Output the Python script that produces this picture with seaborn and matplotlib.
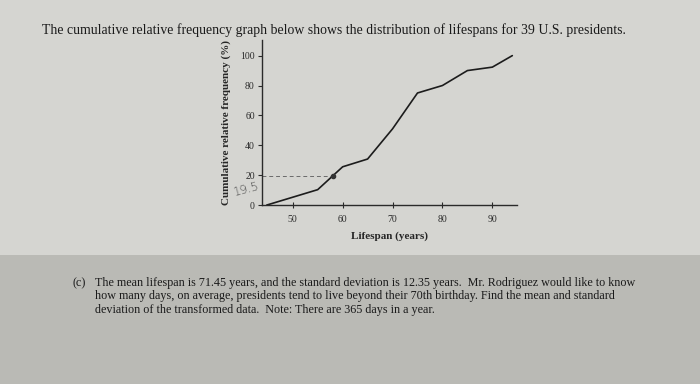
import matplotlib
matplotlib.use('Agg')
import matplotlib.pyplot as plt
import seaborn as sns
import pandas as pd

# values
lifespan = [44.8, 55, 60, 65, 70, 75, 80, 85, 90, 94]
cum_pct = [0, 10.3, 25.6, 30.8, 51.0, 75.0, 80.0, 90.0, 92.3, 100]
x_ticks = [50, 60, 70, 80, 90]
y_ticks = [0, 20, 40, 60, 80, 100]
marked_age = 58
marked_pct = 19.5

title = "The cumulative relative frequency graph below shows the distribution of lifespans for 39 U.S. presidents."
part_c = ["(c)",
		  "The mean lifespan is 71.45 years, and the standard deviation is 12.35 years.  Mr. Rodriguez would like to know",
		  "how many days, on average, presidents tend to live beyond their 70th birthday. Find the mean and standard",
		  "deviation of the transformed data.  Note: There are 365 days in a year."]

sns.set_style('ticks')
plt.rcParams['font.family'] = ['Liberation Serif', 'DejaVu Serif']

paper = '#d5d5d1'
fig = plt.figure(figsize=(7, 3.84), dpi=100, facecolor=paper)

# darker band of the lower half of the photo
fig.patches.append(plt.Rectangle((0, 0), 1, 0.335, transform=fig.transFigure,
								  facecolor='#babab5', edgecolor='none', zorder=0))

ax = fig.add_axes([0.374, 0.466, 0.365, 0.43])
ax.set_facecolor('none')

frame = pd.DataFrame({'Lifespan': lifespan, 'Pct': cum_pct})
sns.lineplot(data=frame, x='Lifespan', y='Pct', ax=ax, color='#1c1c1c', lw=1.2)

# pencil marks
ax.plot([43.8, marked_age], [marked_pct, marked_pct], ls=(0, (4, 3)), color='#6a6a6a', lw=0.7)
ax.plot([marked_age], [marked_pct], 'o', ms=3, color='#333333')
ax.text(-0.115, 0.1, '19.5', transform=ax.transAxes, fontsize=8.5, color='#4a4a4a',
		family='DejaVu Sans', fontweight='light', rotation=15, ha='left', va='center')

ax.set_xlim(43.8, 95)
ax.set_ylim(0, 110.5)
ax.set_xticks(x_ticks)
ax.set_yticks(y_ticks)
ax.tick_params(axis='x', direction='inout', length=5, width=0.8, labelsize=7, pad=5, colors='#2a2a2a')
ax.tick_params(axis='y', direction='out', length=3, width=0.8, labelsize=7, pad=2, colors='#2a2a2a')
sns.despine(ax=ax)
for s in ('left', 'bottom'):
	ax.spines[s].set_color('#2a2a2a')
	ax.spines[s].set_linewidth(1.0)

ax.set_xlabel('Lifespan (years)', fontsize=8, fontweight='bold', labelpad=5)
ax.set_ylabel('Cumulative relative frequency (%)', fontsize=8, fontweight='bold', labelpad=7)

fig.text(0.06, 0.922, title, fontsize=9.9, color='#1a1a1a', ha='left', va='center')

ys = [0.262, 0.228, 0.194]
fig.text(0.103, ys[0], part_c[0], fontsize=8.7, color='#1a1a1a', ha='left', va='center')
for line, yy in zip(part_c[1:], ys):
	fig.text(0.136, yy, line, fontsize=8.7, color='#1a1a1a', ha='left', va='center')

fig.savefig('out.png', dpi=100, facecolor=paper)
